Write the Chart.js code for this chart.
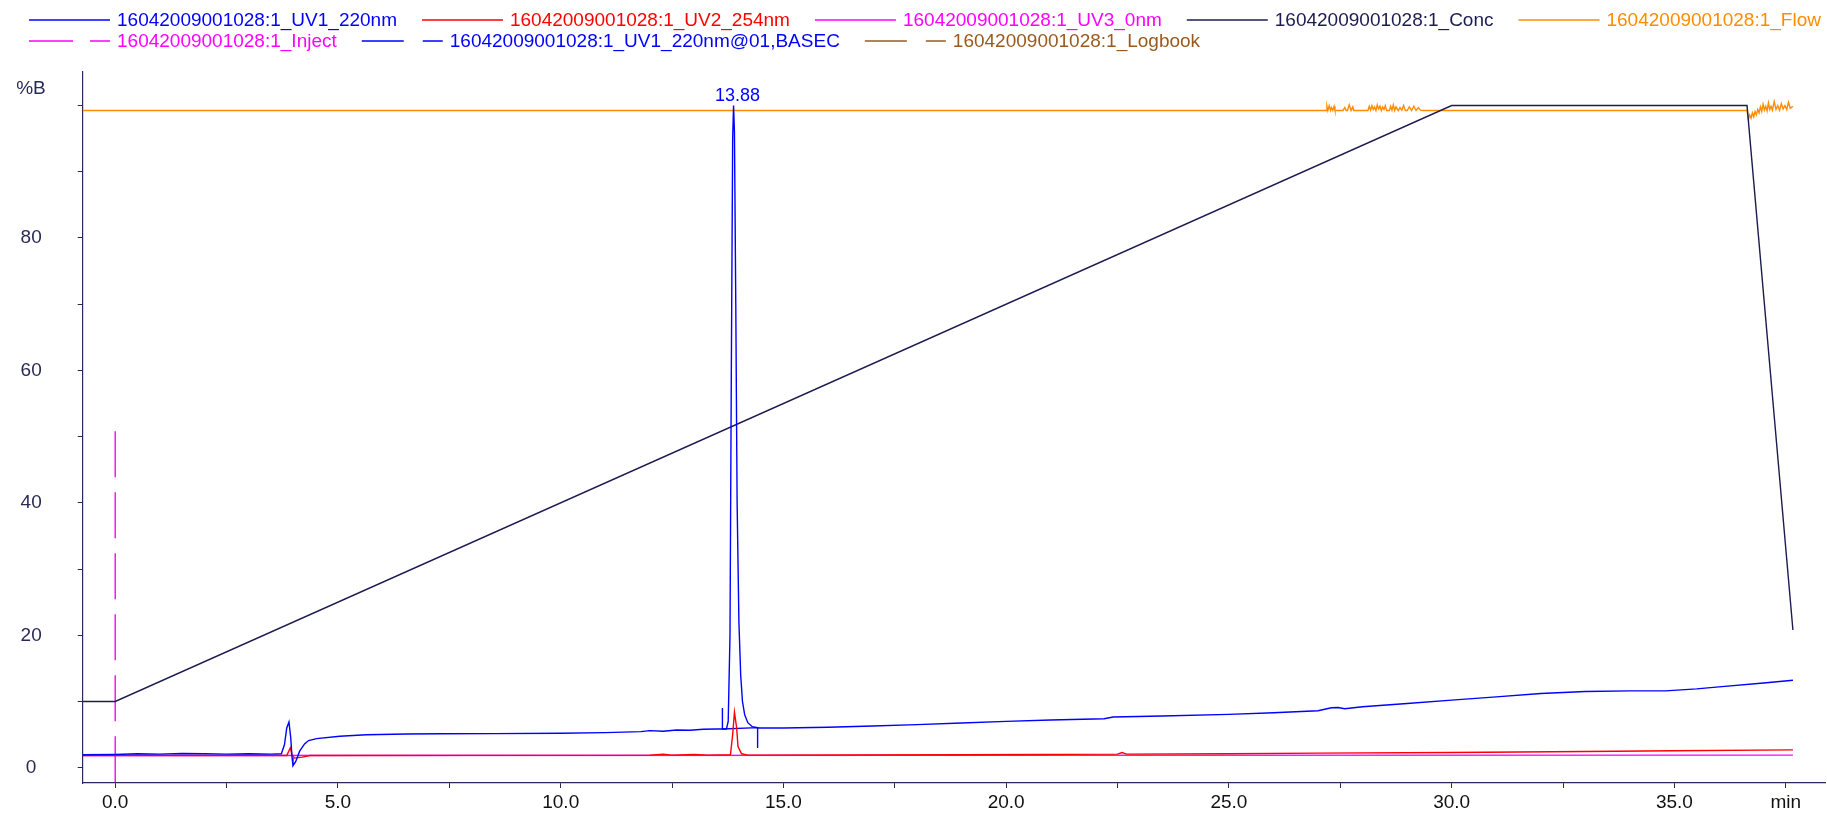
<!DOCTYPE html>
<html>
<head>
<meta charset="utf-8">
<title>16042009001028:1</title>
<script src="https://cdn.jsdelivr.net/npm/chart.js@4.4.1/dist/chart.umd.min.js"></script>
<style>
  html, body { margin: 0; padding: 0; background: #fff; }
  #wrap { position: relative; width: 1827px; height: 814px; }
</style>
</head>
<body>
<div id="wrap"><canvas id="chromChart"></canvas></div>
<script>
// run + curve names
var runName = '16042009001028:1';
var curveNames = ['UV1_220nm', 'UV2_254nm', 'UV3_0nm', 'Conc', 'Flow', 'Inject', 'UV1_220nm@01,BASEC', 'Logbook'];

// UV1 220nm (plotted on the %B axis)
var uv1Time = [-0.73, 0, 0.5, 1.0, 1.5, 2.0, 2.5, 3.0, 3.5, 3.73, 3.80, 3.85, 3.90, 3.94, 3.97, 3.99, 4.05, 4.14, 4.25, 4.34, 4.52,
  5.04, 5.64, 6.54, 7.28, 8.5, 10.0, 11.0, 11.8, 12.0, 12.3, 12.6, 12.9, 13.2, 13.5, 13.72,
  13.76, 13.80, 13.83, 13.86, 13.88, 13.90, 13.93, 13.96, 14.00, 14.04, 14.08, 14.13, 14.20, 14.30, 14.45,
  15.0, 16.0, 17.0, 18.0, 19.0, 20.0, 21.0, 22.2, 22.4, 23.5, 25.0, 26.0, 27.0, 27.3, 27.45, 27.6, 28.0, 29.0,
  30.0, 31.0, 32.0, 33.0, 34.0, 34.8, 35.5, 36.0, 37.0, 37.66];
var uv1Value = [1.95, 2.0, 2.1, 2.05, 2.15, 2.1, 2.05, 2.1, 2.05, 2.1, 3.5, 6.0, 6.9, 4.5, 1.5, 0.3, 0.9, 2.5, 3.6, 4.1, 4.4,
  4.75, 4.98, 5.08, 5.13, 5.15, 5.2, 5.3, 5.45, 5.6, 5.5, 5.7, 5.65, 5.8, 5.85, 5.85,
  7.0, 20, 60, 95, 100, 96, 70, 40, 22, 14, 10, 8, 6.8, 6.2, 6.0,
  6.0, 6.1, 6.3, 6.5, 6.75, 7.0, 7.2, 7.4, 7.65, 7.8, 8.05, 8.3, 8.6, 9.05, 9.1, 8.9, 9.2, 9.7,
  10.2, 10.7, 11.2, 11.5, 11.6, 11.6, 11.9, 12.2, 12.8, 13.2];

// UV2 254nm
var uv2Time = [-0.73, 3.85, 3.93, 3.97, 4.03, 4.2, 4.37, 12.0, 12.3, 12.5, 13.0, 13.3, 13.81, 13.86, 13.90, 13.95, 13.98, 14.06, 14.2,
  19.0, 22.5, 22.6, 22.7, 25.0, 27.0, 30.0, 33.0, 35.0, 37.66];
var uv2Value = [1.85, 1.85, 3.0, 1.9, 1.45, 1.6, 1.85, 1.9, 2.05, 1.9, 2.0, 1.9, 1.96, 5.0, 8.4, 6.0, 3.2, 2.1, 1.9,
  1.95, 2.05, 2.3, 2.05, 2.1, 2.2, 2.3, 2.45, 2.55, 2.7];

// UV3 0nm
var uv3Time = [-0.73, 37.66];
var uv3Value = [1.85, 1.9];

// Conc %B gradient
var concTime = [-0.73, 0, 30.0, 36.63, 37.66];
var concValue = [10, 10, 100, 100, 20.8];

// Flow
var flowTime = [-0.73, 27.18, 27.2, 27.22, 27.25, 27.28, 27.3, 27.33, 27.36, 27.38,
  27.56, 27.6, 27.63, 27.66, 27.7, 27.74, 27.78, 27.8, 27.83,
  28.12, 28.15, 28.18, 28.21, 28.24, 28.27, 28.3, 28.33, 28.36, 28.39, 28.42, 28.45, 28.48, 28.51, 28.54,
  28.6, 28.63, 28.66, 28.69, 28.72, 28.75, 28.8, 28.84, 28.88, 28.92, 28.96, 29.0, 29.05, 29.1, 29.15, 29.2, 29.25, 29.3, 29.37,
  36.63, 36.66, 36.69, 36.72, 36.75, 36.78, 36.81, 36.84, 36.87, 36.9, 36.93, 36.96, 36.99, 37.02, 37.05, 37.08,
  37.11, 37.14, 37.17, 37.2, 37.24, 37.28, 37.32, 37.36, 37.4, 37.44, 37.48, 37.52, 37.56, 37.6, 37.66];
var flowValue = [99.25, 99.25, 99.9, 99.25, 100.0, 99.25, 99.7, 99.25, 99.9, 99.25,
  99.25, 99.7, 99.25, 99.25, 100.1, 99.25, 99.8, 99.25, 99.25,
  99.25, 99.9, 99.3, 100.0, 99.4, 99.8, 99.25, 100.1, 99.5, 99.9, 99.25, 99.8, 99.4, 100.0, 99.25,
  99.25, 99.9, 99.3, 100.1, 99.25, 99.8, 99.25, 99.7, 99.3, 100.0, 99.25, 99.25, 99.8, 99.25, 99.9, 99.25, 99.7, 99.3, 99.25,
  99.25, 97.9, 98.6, 98.1, 98.9, 98.3, 99.1, 98.6, 99.4, 98.9, 99.8, 99.1, 100.2, 99.3, 99.9, 99.2,
  100.4, 99.4, 99.9, 99.3, 100.6, 99.4, 100.0, 99.3, 100.3, 99.5, 100.0, 99.4, 100.5, 99.6, 99.9];

// Inject marker
var injectTime = [0, 0];
var injectValue = [50.8, -2.31];

// integration baseline + peak start / end markers
var basecTime = [13.63, 13.63, 14.42, 14.42];
var basecValue = [9.0, 5.85, 6.05, 2.97];

// logbook (no events drawn)
var logTime = [];
var logValue = [];

// peak annotation
var peakTimes = [13.88];
var peakHeights = [100];
var peakTexts = ['13.88'];

var yUnit = '%B';
var xUnit = 'min';

var curveColors = ['#0000ff', '#ff0000', '#ff00ff', '#1c1c50', '#ff8c00', '#ff00ff', '#0000ff', '#9a5a1e'];
var curveDash = [[], [], [], [], [], [46, 15], [], []];
var legendDash = [[], [], [], [], [], [44, 17], [42, 19], [42, 19]];

function pts(xs, ys) {
  return xs.map(function (v, i) { return { x: v, y: ys[i] }; });
}

var allData = [
  pts(uv1Time, uv1Value), pts(uv2Time, uv2Value), pts(uv3Time, uv3Value), pts(concTime, concValue),
  pts(flowTime, flowValue), pts(injectTime, injectValue), pts(basecTime, basecValue), pts(logTime, logValue)
];

var axisColor = '#2a2a58';
var fontFam = '"Liberation Sans", Arial, Helvetica, sans-serif';
Chart.defaults.font.family = fontFam;

var topLegend = {
  id: 'topLegend',
  afterDraw: function (chart) {
    var ctx = chart.ctx;
    var x = 29, y = 20;
    ctx.save();
    ctx.font = '19px ' + fontFam;
    ctx.textBaseline = 'middle';
    ctx.textAlign = 'left';
    chart.data.datasets.forEach(function (ds, i) {
      var w = 81 + 7 + ctx.measureText(ds.label).width;
      if (x + w > chart.width) { x = 29; y += 21; }
      ctx.strokeStyle = ds.borderColor;
      ctx.lineWidth = 1.5;
      ctx.setLineDash(legendDash[i]);
      ctx.beginPath();
      ctx.moveTo(x, y);
      ctx.lineTo(x + 81, y);
      ctx.stroke();
      ctx.setLineDash([]);
      ctx.fillStyle = ds.borderColor;
      ctx.fillText(ds.label, x + 88, y + 1);
      x += w + 25;
    });
    ctx.restore();
  }
};

var peakNotes = {
  id: 'peakNotes',
  afterDraw: function (chart) {
    var ctx = chart.ctx, xs = chart.scales.x, ys = chart.scales.y;
    ctx.save();
    ctx.font = '18px ' + fontFam;
    ctx.fillStyle = '#0000ff';
    ctx.textAlign = 'center';
    ctx.textBaseline = 'alphabetic';
    peakTimes.forEach(function (t, i) {
      ctx.fillText(peakTexts[i], xs.getPixelForValue(t) + 4, ys.getPixelForValue(peakHeights[i]) - 5);
    });
    // unit of the y axis, above its top tick
    ctx.font = '19px ' + fontFam;
    ctx.fillStyle = axisColor;
    ctx.textBaseline = 'middle';
    ctx.fillText(yUnit, 31, ys.getPixelForValue(100) - 17);
    ctx.restore();
  }
};

new Chart(document.getElementById('chromChart'), {
  type: 'line',
  data: {
    datasets: allData.map(function (d, i) {
      return {
        label: runName + '_' + curveNames[i],
        data: d,
        borderColor: curveColors[i],
        backgroundColor: curveColors[i],
        borderWidth: 1.4,
        borderDash: curveDash[i],
        pointRadius: 0,
        tension: 0,
        fill: false
      };
    })
  },
  options: {
    responsive: true,
    maintainAspectRatio: false,
    animation: false,
    layout: { padding: { top: 72, left: 0, right: 2, bottom: 0 } },
    plugins: { legend: { display: false }, tooltip: { enabled: false } },
    scales: {
      x: {
        type: 'linear',
        min: -0.73,
        max: 38.38,
        afterFit: function (s) { s.height = 31; },
        border: { color: axisColor, width: 1.2 },
        grid: { drawOnChartArea: false, drawTicks: true, tickLength: 5, color: axisColor },
        ticks: {
          stepSize: 2.5,
          includeBounds: false,
          autoSkip: false,
          maxRotation: 0,
          padding: 3,
          color: '#111',
          font: { size: 19 },
          callback: function (v) {
            if (Math.abs(v - 37.5) < 1e-6) return xUnit;
            return (Math.abs(v % 5) < 1e-6) ? v.toFixed(1) : '';
          }
        }
      },
      y: {
        type: 'linear',
        min: -2.31,
        max: 105.07,
        afterFit: function (s) {
          s.width = 82.7;
          // the wide label padding must not eat into the plot height
          s.paddingTop = 0;
          s.paddingBottom = 0;
        },
        border: { color: axisColor, width: 1.2 },
        grid: { drawOnChartArea: false, drawTicks: true, tickLength: 5, color: axisColor },
        ticks: {
          stepSize: 10,
          includeBounds: false,
          crossAlign: 'center',
          padding: 36,
          color: axisColor,
          font: { size: 19 },
          callback: function (v) { return (v % 20 === 0 && v !== 100) ? String(v) : ''; }
        }
      }
    }
  },
  plugins: [topLegend, peakNotes]
});
</script>
</body>
</html>
